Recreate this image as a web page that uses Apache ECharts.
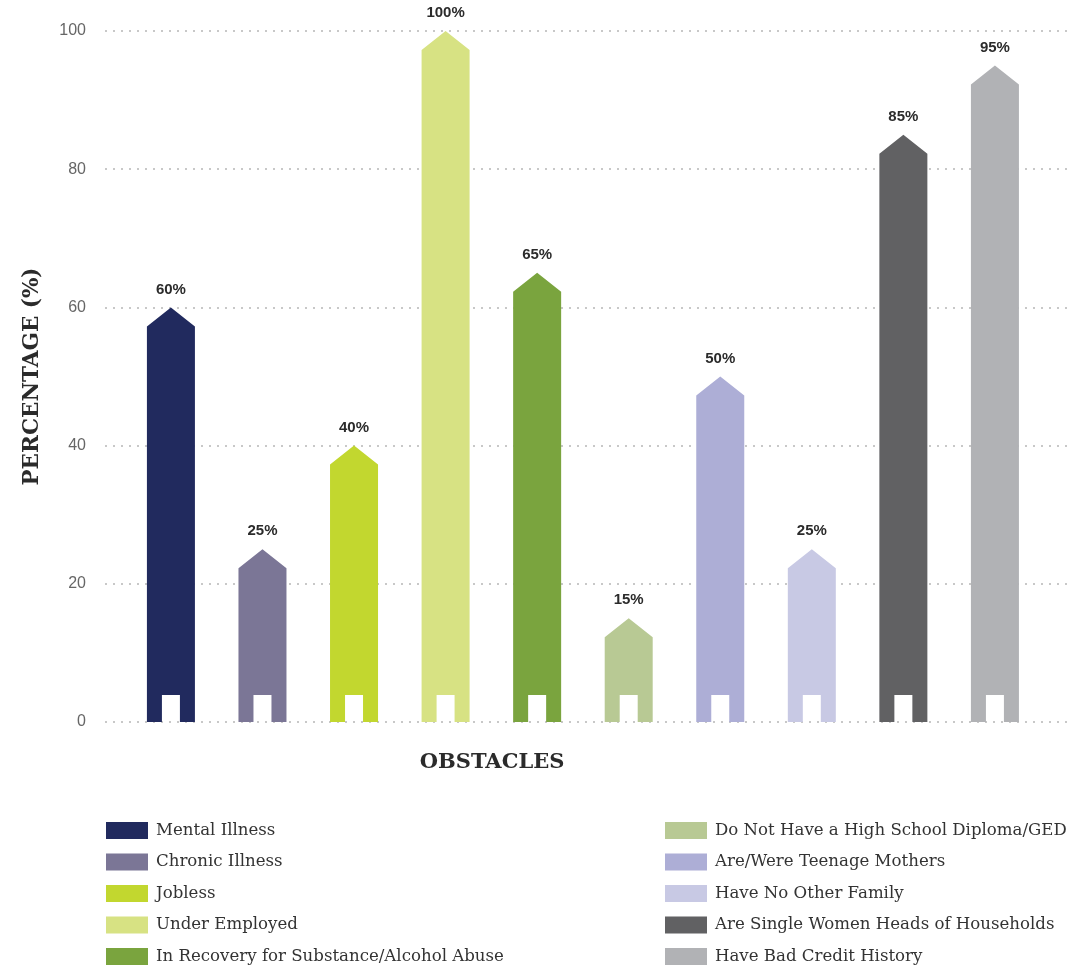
<!DOCTYPE html>
<html>
<head>
<meta charset="utf-8">
<script src="https://cdn.jsdelivr.net/npm/echarts@6/dist/echarts.min.js"></script>
<style>
html,body{margin:0;padding:0;background:#fff;}
#chart{width:1072px;height:968px;}
</style>
</head>
<body>
<div id="chart"></div>
<script>
const categories = [
  'Mental Illness',
  'Chronic Illness',
  'Jobless',
  'Under Employed',
  'In Recovery for Substance/Alcohol Abuse',
  'Do Not Have a High School Diploma/GED',
  'Are/Were Teenage Mothers',
  'Have No Other Family',
  'Are Single Women Heads of Households',
  'Have Bad Credit History'
];
const values = [60, 25, 40, 100, 65, 15, 50, 25, 85, 95];
const colors = ['#212a5e','#7b7696','#c2d72f','#d7e283','#7aa43e','#b8c994','#adaed6','#c8c9e4','#616163','#b1b2b5'];
const yTicks = [0, 20, 40, 60, 80, 100];

function renderHouse(params, api) {
  const x = api.value(0), v = api.value(1);
  const top = api.coord([x, v]);
  const base = api.coord([x, 0]);
  const hw = 24, roof = 19, dw = 9, dh = 27;
  const cx = top[0], ty = top[1], by = base[1];
  return {
    type: 'group',
    children: [
      {
        type: 'polygon',
        shape: { points: [
          [cx, ty], [cx + hw, ty + roof], [cx + hw, by], [cx + dw, by], [cx + dw, by - dh],
          [cx - dw, by - dh], [cx - dw, by], [cx - hw, by], [cx - hw, ty + roof]
        ]},
        style: { fill: api.visual('color') }
      },
      {
        type: 'text',
        style: {
          text: v + '%', x: cx, y: ty - 18, textAlign: 'center', textVerticalAlign: 'middle',
          font: 'bold 15px "Liberation Sans", Arial, sans-serif', fill: '#2b2b2b'
        }
      }
    ]
  };
}

const chart = echarts.init(document.getElementById('chart'));
const legendBase = {
  orient: 'vertical', icon: 'rect', itemWidth: 42, itemHeight: 17, itemGap: 14.5,
  padding: 0, selectedMode: false, height: 160,
  textStyle: { fontFamily: '"DejaVu Serif", serif', fontSize: 16.6, lineHeight: 17, color: '#333', padding: [0, 0, 0, 3] }
};
chart.setOption({
  animation: false,
  grid: { left: 105, right: 2, top: 31, bottom: 246 },
  xAxis: { type: 'value', min: -0.72, max: 9.82, show: false, splitLine: { show: false } },
  yAxis: {
    type: 'value', min: 0, max: 100, interval: 20,
    name: 'PERCENTAGE (%)', nameLocation: 'middle', nameGap: 62, nameRotate: 90,
    nameTextStyle: { fontFamily: '"DejaVu Serif", serif', fontWeight: 'bold', fontSize: 21.5, color: '#2b2b2b' },
    axisLine: { show: false }, axisTick: { show: false },
    axisLabel: { margin: 19, fontSize: 16, color: '#666', fontFamily: '"Liberation Sans", Arial, sans-serif',
      formatter: v => yTicks.includes(v) ? String(v) : '' },
    splitLine: { lineStyle: { type: [2, 6], width: 2, color: '#c8c8c8' } }
  },
  legend: [
    Object.assign({}, legendBase, { data: categories.slice(0, 5), left: 106, top: 822 }),
    Object.assign({}, legendBase, { data: categories.slice(5), left: 665, top: 822 })
  ],
  graphic: [{
    type: 'text', x: 492, y: 763,
    style: { text: 'OBSTACLES', textAlign: 'center', textVerticalAlign: 'middle',
      font: 'bold 21px "DejaVu Serif", serif', fill: '#2b2b2b' }
  }],
  series: categories.map((c, i) => ({
    type: 'custom', name: c, itemStyle: { color: colors[i] },
    renderItem: renderHouse, data: [[i, values[i]]]
  }))
});
</script>
</body>
</html>
